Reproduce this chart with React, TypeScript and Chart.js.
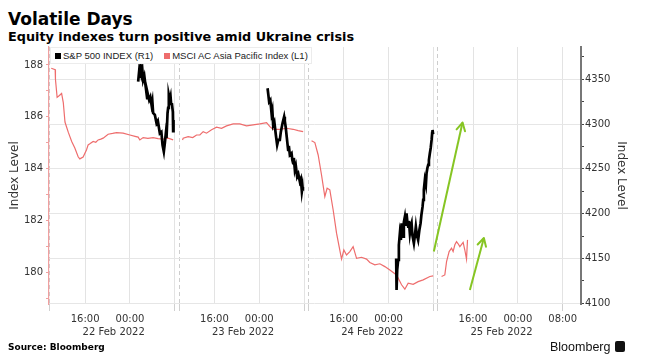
import React, { useEffect, useRef } from "react";
import { Chart, registerables } from "chart.js";

Chart.register(...registerables);

// ---- axis layout data (session hours; each trading "day block" is ~23.07 h wide) ----
const BLOCK_HOURS = 23.07;
const dayLabels = ["22 Feb 2022", "23 Feb 2022", "24 Feb 2022", "25 Feb 2022"];
const timeTickOffsets = [0, 6.3, 14.3, 22.3]; // block start, 16:00, 00:00, 08:00
const timeTickLabels = ["", "16:00", "00:00", "08:00"];
const dateLabelOffset = 11.4;
const X_MIN = -0.15;
const X_MAX = 94.78;

// ---- MSCI AC Asia Pacific Index (left axis) ; null = session break ----
const msciHours = [
  0.25, 0.95, 1.0, 1.3, 1.7, 2.1, 2.4, 2.7, 3.0, 3.3, 3.9, 4.46, 5.05, 5.35, 5.94, 6.55, 6.83, 7.14, 7.73, 8.2, 8.62, 9.1, 9.51, 10.4, 11.2, 11.9, 13.08, 14.28, 15.2, 15.76, 16.06, 16.65, 17.5, 18.43, 19.3, 20.22, 21.11, 22.0,
  22.8,
  23.68, 23.79, 24.68, 25.5, 26.18, 26.77, 27.36, 27.96, 28.86, 29.75, 30.64, 31.53, 32.71, 33.9, 35.1, 36.28, 37.47, 38.67, 39.26, 39.85, 41.04, 42.24, 43.41, 44.31, 45.2,
  45.9,
  46.7, 47.29, 47.88, 48.48, 49.07, 49.48, 49.96, 50.55, 51.16, 51.62, 52.05, 52.46, 52.94, 53.53, 54.12, 54.73, 55.62, 56.51, 57.1, 57.99, 58.89, 59.78, 60.67, 61.87, 62.76, 63.35, 63.94, 64.83, 65.72, 66.62, 67.81, 68.4,
  69.2,
  69.9, 70.48, 70.79, 71.25, 71.68, 71.96, 72.27, 72.57, 72.86, 73.16, 73.75, 74.05, 74.35, 74.53,
];
const msciValues = [
  187.87, 187.82, 187.45, 186.75, 186.82, 186.9, 186.55, 185.8, 185.6, 185.4, 185.05, 184.8, 184.46, 184.38, 184.45, 184.73, 184.92, 184.96, 185.05, 185.02, 185.11, 185.14, 185.18, 185.33, 185.36, 185.39, 185.37, 185.3, 185.25, 185.22, 185.11, 185.2, 185.17, 185.2, 185.16, 185.14, 185.18, 185.11,
  null,
  185.11, 185.18, 185.24, 185.2, 185.3, 185.3, 185.43, 185.37, 185.5, 185.6, 185.56, 185.65, 185.73, 185.73, 185.65, 185.69, 185.73, 185.78, 185.62, 185.52, 185.52, 185.56, 185.52, 185.47, 185.43,
  null,
  185.08, 185.01, 184.53, 183.76, 182.93, 183.25, 183.19, 182.42, 181.52, 181.0, 180.52, 180.87, 180.68, 180.81, 181.0, 180.55, 180.59, 180.52, 180.39, 180.3, 180.34, 180.23, 180.1, 179.91, 179.53, 179.36, 179.59, 179.55, 179.65, 179.72, 179.85, 179.87,
  null,
  179.85, 179.91, 180.42, 180.81, 180.94, 180.81, 181.07, 181.19, 181.11, 181.0, 181.16, 180.87, 180.52, 181.26,
];

// ---- S&P 500 INDEX (right axis) ----
const spxHours = [
  15.76, 15.93, 16.06, 16.24, 16.36, 16.51, 16.65, 16.86, 17.13, 17.36, 17.48, 17.72, 17.93, 18.15, 18.29, 18.43, 18.74, 19.04, 19.27, 19.63, 19.9, 20.11, 20.34, 20.52, 20.7, 20.82, 21.0, 21.11, 21.23, 21.41, 21.54, 21.64, 21.77, 21.95, 22.0, 22.07,
  30.0,
  38.85, 38.99, 39.13, 39.34, 39.56, 39.7, 39.85, 40.06, 40.33, 40.56, 40.77, 41.04, 41.22, 41.52, 41.81, 41.93, 42.11, 42.29, 42.52, 42.65, 42.83, 43.13, 43.27, 43.41, 43.54, 43.72, 43.9, 44.13, 44.34, 44.61, 44.79, 44.97, 45.09, 45.15,
  55.0,
  61.8, 61.87, 61.98, 62.15, 62.28, 62.46, 62.64, 62.76, 62.9, 63.05, 63.17, 63.35, 63.53, 63.65, 63.8, 63.94, 64.07, 64.24, 64.42, 64.55, 64.69, 64.96, 65.13, 65.31, 65.49, 65.72, 65.94, 66.15, 66.3, 66.51, 66.62, 66.74, 66.92, 67.1, 67.22, 67.37, 67.51, 67.64, 67.81, 67.96, 68.12, 68.22, 68.29, 68.4,
];
const spxValues = [
  4347.3, 4358.5, 4351.5, 4362.6, 4355.9, 4360.4, 4349.2, 4353.7, 4340.3, 4328.8, 4333.6, 4326.9, 4330.2, 4321.3, 4325.8, 4312.4, 4310.2, 4300.9, 4303.5, 4289.7, 4291.2, 4276.7, 4269.2, 4278.9, 4289.7, 4284.5, 4312.1, 4318.1, 4332.5, 4327.0, 4330.6, 4322.5, 4323.2, 4313.5, 4292.0, 4304.6,
  null,
  4340.0, 4332.5, 4325.0, 4326.9, 4312.1, 4315.8, 4299.0, 4302.3, 4287.8, 4276.7, 4282.3, 4282.3, 4291.2, 4300.9, 4308.3, 4303.5, 4295.3, 4284.5, 4271.1, 4275.6, 4265.5, 4267.4, 4259.9, 4256.3, 4262.2, 4248.8, 4253.2, 4241.3, 4244.3, 4235.7, 4238.7, 4224.6, 4229.8, 4225.5,
  null,
  4150.0, 4114.8, 4137.2, 4148.3, 4165.1, 4178.1, 4170.6, 4189.3, 4179.6, 4174.3, 4190.7, 4196.7, 4186.3, 4200.4, 4190.7, 4185.5, 4191.9, 4178.1, 4186.3, 4189.3, 4176.2, 4167.0, 4175.1, 4185.5, 4176.2, 4170.6, 4181.8, 4189.3, 4198.5, 4207.8, 4215.3, 4226.5, 4237.6, 4232.1, 4245.1, 4251.0, 4254.4, 4259.9, 4267.4, 4273.3, 4282.3, 4290.1, 4293.4, 4288.7,
];

// ---- annotation arrows (left-axis units) ----
const arrowBigHours = [68.52, 73.64];
const arrowBigValues = [180.81, 185.78];
const arrowSmallHours = [74.95, 77.45];
const arrowSmallValues = [179.33, 181.33];

const LEFT_MIN = 178.79;
const LEFT_MAX = 188.69;
const RIGHT_MIN = 4099.2;
const RIGHT_MAX = 4386;

const RED = "#ee6d6d";
const GREEN = "#86c523";
const PINK_AXIS = "#f0a0a0";

const toPoints = (xs: number[], ys: (number | null)[]) => xs.map((x, i) => ({ x, y: ys[i] }));

const timeTickValues: number[] = [];
const timeTickText: string[] = [];
dayLabels.forEach((_, b) => {
  timeTickOffsets.forEach((off, j) => {
    timeTickValues.push(b * BLOCK_HOURS + off);
    timeTickText.push(j === 3 && b !== dayLabels.length - 1 ? "" : timeTickLabels[j]);
  });
});
const dateTickValues = dayLabels.map((_, b) => b * BLOCK_HOURS + dateLabelOffset);

const arrowHeadPlugin = {
  id: "arrowHeads",
  afterDatasetsDraw(chart: any) {
    const ctx = chart.ctx;
    chart.data.datasets.forEach((ds: any, i: number) => {
      if (!ds.isArrow) return;
      const pts = chart.getDatasetMeta(i).data;
      if (pts.length < 2) return;
      const a = pts[pts.length - 2];
      const b = pts[pts.length - 1];
      const ang = Math.atan2(b.y - a.y, b.x - a.x);
      const L = 9;
      const spread = 0.5;
      ctx.save();
      ctx.strokeStyle = ds.borderColor;
      ctx.lineWidth = ds.borderWidth;
      ctx.lineCap = "round";
      ctx.lineJoin = "round";
      ctx.beginPath();
      ctx.moveTo(b.x - L * Math.cos(ang - spread), b.y - L * Math.sin(ang - spread));
      ctx.lineTo(b.x, b.y);
      ctx.lineTo(b.x - L * Math.cos(ang + spread), b.y - L * Math.sin(ang + spread));
      ctx.stroke();
      ctx.restore();
    });
  },
};

export default function App() {
  const canvasRef = useRef<HTMLCanvasElement | null>(null);

  useEffect(() => {
    if (!canvasRef.current) return;
    Chart.defaults.font.family = "'DejaVu Sans', sans-serif";
    const chart = new Chart(canvasRef.current, {
      type: "line",
      data: {
        datasets: [
          {
            label: "S&P 500 INDEX (R1)",
            data: toPoints(spxHours, spxValues),
            xAxisID: "x",
            yAxisID: "yR",
            borderColor: "#000",
            borderWidth: 2.7,
            borderJoinStyle: "miter",
            pointRadius: 0,
            tension: 0,
            spanGaps: false,
            order: 1,
          },
          {
            label: "MSCI AC Asia Pacific Index (L1)",
            data: toPoints(msciHours, msciValues),
            xAxisID: "x",
            yAxisID: "yL",
            borderColor: RED,
            borderWidth: 1.2,
            pointRadius: 0,
            tension: 0,
            spanGaps: false,
            order: 2,
          },
          {
            label: "arrow1",
            isArrow: true,
            data: toPoints(arrowBigHours, arrowBigValues),
            xAxisID: "x",
            yAxisID: "yL",
            borderColor: GREEN,
            borderWidth: 2,
            pointRadius: 0,
            order: 0,
          } as any,
          {
            label: "arrow2",
            isArrow: true,
            data: toPoints(arrowSmallHours, arrowSmallValues),
            xAxisID: "x",
            yAxisID: "yL",
            borderColor: GREEN,
            borderWidth: 2,
            pointRadius: 0,
            order: 0,
          } as any,
        ],
      },
      options: {
        responsive: false,
        animation: false,
        events: [],
        layout: { padding: { top: 47, left: 0, right: 0, bottom: 0 } },
        plugins: {
          legend: { display: false },
          tooltip: { enabled: false },
        },
        scales: {
          x: {
            type: "linear",
            position: "bottom",
            min: X_MIN,
            max: X_MAX,
            weight: 0,
            afterBuildTicks: (scale: any) => {
              scale.ticks = timeTickValues.map((v) => ({ value: v }));
            },
            afterFit: (scale: any) => {
              scale.height = 20;
            },
            ticks: {
              autoSkip: false,
              maxRotation: 0,
              padding: 2,
              color: "#333",
              font: { size: 10 },
              callback: (_v: any, i: number) => timeTickText[i],
            },
            grid: {
              drawTicks: true,
              tickLength: 7,
              lineWidth: 1,
              color: (c: any) => (c.index % 4 === 0 ? "#cdcdcd" : "#e3e3e3"),
              tickColor: (c: any) => (c.index % 4 === 0 || c.index % 4 === 3 ? "#d0d0d0" : "rgba(0,0,0,0)"),
            },
            border: {
              display: false,
              dash: (c: any) => (c.index !== undefined && c.index % 4 === 0 ? [4, 3] : []),
            },
          },
          xDate: {
            type: "linear",
            position: "bottom",
            min: X_MIN,
            max: X_MAX,
            weight: 1,
            afterBuildTicks: (scale: any) => {
              scale.ticks = dateTickValues.map((v) => ({ value: v }));
            },
            afterFit: (scale: any) => {
              scale.height = 35;
            },
            ticks: {
              autoSkip: false,
              maxRotation: 0,
              padding: 2,
              color: "#333",
              font: { size: 10 },
              callback: (_v: any, i: number) => dayLabels[i],
            },
            grid: { display: false, drawTicks: false },
            border: { display: false },
          },
          yL: {
            type: "linear",
            position: "left",
            min: LEFT_MIN,
            max: LEFT_MAX,
            afterFit: (scale: any) => {
              scale.width = 49;
            },
            ticks: {
              stepSize: 1,
              includeBounds: false,
              padding: 3,
              color: "#333",
              font: { size: 10 },
              callback: (v: any) => (Math.round(v) % 2 === 0 ? String(Math.round(v)) : ""),
            },
            grid: { drawOnChartArea: false, tickLength: 3, tickColor: PINK_AXIS },
            border: { color: PINK_AXIS, width: 1.2, dash: [4, 3] },
            title: {
              display: true,
              text: "Index Level",
              color: "#333",
              font: { size: 12 },
              padding: { top: 8, bottom: 0 },
            },
          },
          yR: {
            type: "linear",
            position: "right",
            min: RIGHT_MIN,
            max: RIGHT_MAX,
            afterFit: (scale: any) => {
              scale.width = 64;
            },
            ticks: {
              stepSize: 25,
              includeBounds: false,
              padding: 1,
              color: "#333",
              font: { size: 10 },
              callback: (v: any) => (Math.round(v) % 50 === 0 ? String(Math.round(v)) : ""),
            },
            grid: {
              drawOnChartArea: true,
              tickLength: 3,
              tickColor: "#444",
              color: (c: any) =>
                c.tick && Math.round(c.tick.value) % 50 === 0 ? "#e6e6e6" : "rgba(0,0,0,0)",
            },
            border: { color: "#777", width: 2 },
            title: {
              display: true,
              text: "Index Level",
              color: "#333",
              font: { size: 12 },
              padding: { top: 17, bottom: 0 },
            },
          },
        },
      } as any,
      plugins: [arrowHeadPlugin],
    });
    return () => chart.destroy();
  }, []);

  const legendText: React.CSSProperties = {
    fontFamily: "'Liberation Sans', Arial, sans-serif",
    fontSize: 9.5,
    color: "#222",
    whiteSpace: "nowrap",
  };

  return (
    <div
      style={{
        position: "fixed",
        left: 0,
        top: 0,
        width: 645,
        height: 359,
        background: "#fff",
        fontFamily: "'DejaVu Sans', sans-serif",
        overflow: "hidden",
      }}
    >
      <div style={{ position: "absolute", left: 8, top: 11, fontSize: 17, fontWeight: "bold", lineHeight: "17px", color: "#000", whiteSpace: "nowrap" }}>
        Volatile Days
      </div>
      <div style={{ position: "absolute", left: 8, top: 30, fontSize: 12.8, fontWeight: "bold", lineHeight: "13px", color: "#000", whiteSpace: "nowrap" }}>
        Equity indexes turn positive amid Ukraine crisis
      </div>
      <canvas ref={canvasRef} width={645} height={359} style={{ position: "absolute", left: 0, top: 0, width: 645, height: 359 }} />
      <div
        style={{
          position: "absolute",
          left: 50,
          top: 47,
          width: 262,
          height: 17,
          background: "#fff",
          border: "1px solid #ececec",
          boxSizing: "border-box",
          display: "flex",
          alignItems: "center",
          paddingLeft: 4,
        }}
      >
        <span style={{ display: "inline-block", width: 6, height: 6, background: "#000", marginRight: 2 }} />
        <span style={legendText}>S&amp;P 500 INDEX (R1)</span>
        <span style={{ display: "inline-block", width: 6, height: 6, background: RED, marginLeft: 11, marginRight: 2 }} />
        <span style={legendText}>MSCI AC Asia Pacific Index (L1)</span>
      </div>
      <div style={{ position: "absolute", left: 8, top: 341, fontSize: 9, fontWeight: "bold", lineHeight: "12px", color: "#000", whiteSpace: "nowrap" }}>
        Source: Bloomberg
      </div>
      <div
        style={{
          position: "absolute",
          left: 550,
          top: 339,
          fontFamily: "'Liberation Sans', Arial, sans-serif",
          fontSize: 12.5,
          lineHeight: "16px",
          color: "#111",
          whiteSpace: "nowrap",
        }}
      >
        Bloomberg
      </div>
      <div style={{ position: "absolute", left: 615, top: 341, width: 10, height: 11, background: "#111", borderRadius: 2 }} />
    </div>
  );
}
